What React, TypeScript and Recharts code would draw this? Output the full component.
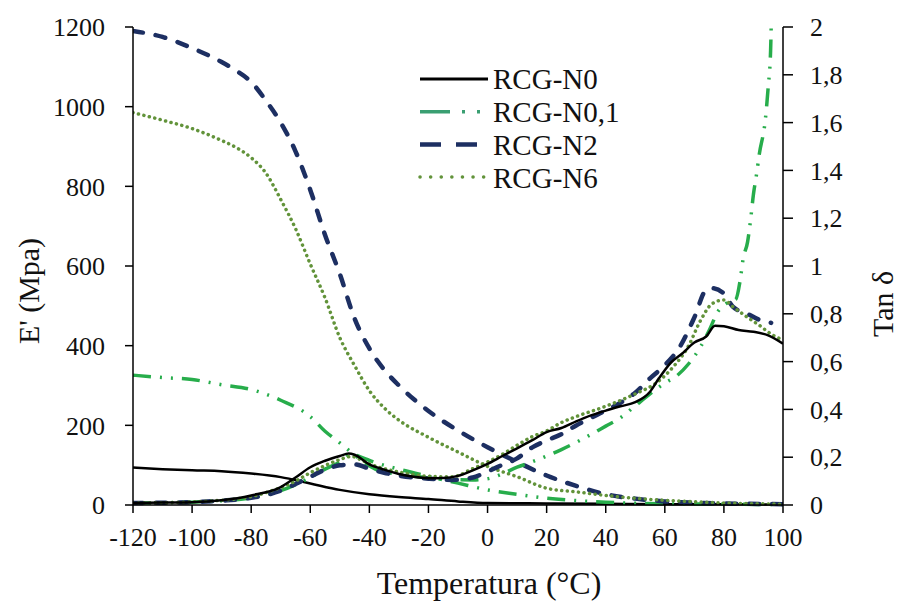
import React from 'react';
import { LineChart, Line, XAxis, YAxis, Legend, Label } from 'recharts';

// temperature ticks (°C)
const tempTicks = [-120, -100, -80, -60, -40, -20, 0, 20, 40, 60, 80, 100];
const modTicks = [0, 200, 400, 600, 800, 1000, 1200];
const tanTicks = [0, 0.2, 0.4, 0.6, 0.8, 1, 1.2, 1.4, 1.6, 1.8, 2];

// E' (MPa) curves
const n0ModT = [-120, -110, -100, -90, -80, -70, -60, -50, -40, -30, -20, -10, 0, 20, 40, 60, 80, 100];
const n0Mod = [94, 90, 87, 85, 79, 70, 54, 38, 27, 20, 15, 9, 5, 4, 3, 2, 2, 1];

const n01ModT = [-120, -110, -100, -90, -80, -70, -60, -55, -50, -46, -40, -30, -20, -10, 0, 10, 20, 30, 40, 60, 80, 100];
const n01Mod = [326, 320, 315, 302, 290, 263, 222, 185, 156, 132, 112, 90, 72, 55, 38, 27, 17, 11, 7, 3, 2, 1];

const n2ModT = [-120, -110, -100, -90, -85, -80, -75, -70, -65, -60, -55, -50, -45, -40, -35, -30, -20, -10, 0, 10, 20, 30, 40, 50, 60, 80, 100];
const n2Mod = [1190, 1175, 1147, 1112, 1090, 1062, 1015, 960, 888, 791, 678, 580, 468, 393, 340, 300, 236, 187, 145, 108, 74, 48, 27, 16, 9, 4, 2];

const n6ModT = [-120, -110, -100, -90, -85, -80, -75, -70, -65, -60, -55, -50, -45, -40, -35, -30, -20, -10, 0, 10, 20, 30, 40, 50, 70, 100];
const n6Mod = [985, 966, 945, 915, 897, 872, 833, 767, 694, 605, 520, 420, 350, 287, 244, 213, 170, 133, 97, 71, 42, 33, 24, 17, 8, 2];

// tan delta curves
const n0TanT = [-120, -110, -100, -90, -80, -70, -65, -60, -55, -50, -47, -45, -40, -35, -30, -25, -20, -15, -10, -5, 0, 5, 10, 15, 20, 25, 30, 35, 40, 45, 50, 55, 58, 62, 66, 70, 74, 77, 80, 85, 90, 95, 100];
const n0Tan = [0.008, 0.01, 0.012, 0.02, 0.04, 0.075, 0.115, 0.158, 0.185, 0.205, 0.215, 0.21, 0.17, 0.148, 0.13, 0.118, 0.112, 0.113, 0.122, 0.145, 0.172, 0.205, 0.237, 0.27, 0.305, 0.322, 0.35, 0.375, 0.395, 0.413, 0.43, 0.474, 0.53, 0.595, 0.635, 0.68, 0.705, 0.75, 0.748, 0.732, 0.725, 0.71, 0.675];

const n01TanT = [-120, -100, -90, -80, -70, -60, -55, -50, -46, -42, -38, -33, -25, -15, -5, 0, 5, 10, 15, 20, 25, 30, 35, 40, 45, 50, 55, 60, 64, 68, 72, 75, 78, 81, 84, 85.5, 86.5, 88, 89, 90, 91, 92, 94, 95, 95.8, 96];
const n01Tan = [0.008, 0.012, 0.018, 0.03, 0.06, 0.115, 0.15, 0.18, 0.212, 0.18, 0.15, 0.134, 0.12, 0.108, 0.105, 0.11, 0.13, 0.158, 0.18, 0.205, 0.232, 0.262, 0.295, 0.33, 0.365, 0.415, 0.465, 0.51, 0.54, 0.59, 0.66, 0.73, 0.81, 0.845, 0.86, 0.94, 1.03, 1.1, 1.19, 1.3, 1.38, 1.47, 1.61, 1.75, 1.9, 2.0];

const n2TanT = [-120, -100, -90, -80, -70, -65, -60, -55, -50, -45, -40, -35, -30, -20, -12, -5, 0, 5, 10, 15, 20, 25, 30, 35, 40, 45, 50, 55, 60, 65, 70, 74, 76, 80, 83, 88, 92, 96];
const n2Tan = [0.008, 0.012, 0.018, 0.03, 0.06, 0.088, 0.118, 0.148, 0.166, 0.17, 0.152, 0.135, 0.123, 0.11, 0.105, 0.115, 0.14, 0.168, 0.195, 0.24, 0.27, 0.296, 0.333, 0.365, 0.395, 0.428, 0.47, 0.53, 0.585, 0.66, 0.785, 0.9, 0.907, 0.885, 0.83, 0.8, 0.775, 0.762];

const n6TanT = [-120, -100, -90, -80, -73, -65, -60, -55, -50, -46, -43, -40, -35, -30, -25, -20, -12, -5, 0, 5, 10, 15, 20, 25, 30, 40, 50, 57, 63, 68, 72, 76, 80, 83, 88, 92, 96, 100];
const n6Tan = [0.008, 0.013, 0.02, 0.035, 0.06, 0.1, 0.135, 0.165, 0.19, 0.203, 0.19, 0.172, 0.152, 0.138, 0.127, 0.12, 0.118, 0.152, 0.18, 0.212, 0.25, 0.285, 0.31, 0.345, 0.37, 0.413, 0.465, 0.51, 0.58, 0.665, 0.77, 0.842, 0.858, 0.83, 0.785, 0.752, 0.715, 0.69];

const zip = (ts: number[], vs: number[]) => ts.map((t, i) => ({ t, v: vs[i] }));

const FONT = "'Liberation Serif', 'DejaVu Serif Condensed', 'DejaVu Serif', serif";
const NAVY = '#1d2f62';
const GREEN = '#27ad4b';
const OLIVE = '#62933a';

const styles = {
  n0: { stroke: '#000', strokeWidth: 2.5, strokeDasharray: undefined, strokeLinecap: 'butt' },
  n01: { stroke: GREEN, strokeWidth: 3.5, strokeDasharray: '18 9 2 9 2 9', strokeLinecap: 'butt' },
  n2: { stroke: NAVY, strokeWidth: 4.5, strokeDasharray: '10 13', strokeLinecap: 'round' },
  n6: { stroke: OLIVE, strokeWidth: 3.5, strokeDasharray: '0.1 5.5', strokeLinecap: 'round' },
};

const legendItems = [
  { name: 'RCG-N0', stroke: '#000', width: 3, dash: undefined, cap: 'butt', len: 68 },
  { name: 'RCG-N0,1', stroke: '#3a9f72', width: 3.5, dash: '30 12 3 12 3 12', cap: 'butt', len: 68 },
  { name: 'RCG-N2', stroke: NAVY, width: 4.5, dash: '21 15', cap: 'butt', len: 58 },
  { name: 'RCG-N6', stroke: OLIVE, width: 3.5, dash: '0.1 10.5', cap: 'round', len: 68 },
];

const textStyle = { fontFamily: FONT };

const SampleLegend = () => (
  <svg width={320} height={150} style={{ overflow: 'visible' }}>
    {legendItems.map((it, i) => {
      const y = 14 + i * 32.7;
      return (
        <g key={it.name}>
          <line x1={2} x2={2 + it.len} y1={y} y2={y} stroke={it.stroke} strokeWidth={it.width}
            strokeDasharray={it.dash} strokeLinecap={it.cap as any} />
          <text x={75} y={y} dy="0.36em" fontSize={29} style={textStyle} fill="#111">{it.name}</text>
        </g>
      );
    })}
  </svg>
);

const tanFormat = (v: number) => String(v).replace('.', ',');
const tickProps = { fill: '#111', fontSize: 26, style: textStyle };

export default function App() {
  return (
    <div style={{ position: 'absolute', left: 0, top: 0, background: '#fff', fontFamily: FONT }}>
      <LineChart width={902} height={601} margin={{ top: 27, right: 0, bottom: 0, left: 0 }}
        style={{ fontFamily: FONT }}>
        <XAxis
          type="number"
          dataKey="t"
          domain={[-120, 100]}
          ticks={tempTicks}
          interval={0}
          allowDataOverflow
          height={96}
          tickSize={8}
          tickMargin={15}
          stroke="#000"
          strokeWidth={1.5}
          tick={tickProps}
        >
          <Label
            content={() => (
              <text x={489} y={594} textAnchor="middle" fontSize={32} style={textStyle} fill="#111">
                Temperatura (°C)
              </text>
            )}
          />
        </XAxis>
        <YAxis
          yAxisId="mod"
          domain={[0, 1200]}
          ticks={modTicks}
          interval={0}
          width={133}
          tickSize={8}
          tickMargin={20}
          stroke="#000"
          strokeWidth={1.5}
          tick={tickProps}
        >
          <Label
            content={() => (
              <text x={28} y={291} transform="rotate(-90, 28, 291)" textAnchor="middle" dy="0.35em"
                fontSize={30} style={textStyle} fill="#111">
                E' (Mpa)
              </text>
            )}
          />
        </YAxis>
        <YAxis
          yAxisId="tan"
          orientation="right"
          domain={[0, 2]}
          ticks={tanTicks}
          interval={0}
          width={119}
          tickSize={10}
          tickMargin={17}
          stroke="#000"
          strokeWidth={1.5}
          tickFormatter={tanFormat}
          tick={tickProps}
        >
          <Label
            content={() => (
              <text x={882} y={304} transform="rotate(-90, 882, 304)" textAnchor="middle" dy="0.35em"
                fontSize={30} style={textStyle} fill="#111">
                Tan δ
              </text>
            )}
          />
        </YAxis>
        <Legend
          layout="vertical"
          align="center"
          verticalAlign="middle"
          content={() => <SampleLegend />}
          wrapperStyle={{ position: 'absolute', left: 418, top: 65, width: 320, height: 150 }}
        />

        <Line yAxisId="mod" data={zip(n0ModT, n0Mod)} dataKey="v" type="monotone" dot={false}
          isAnimationActive={false} {...(styles.n0 as any)} />
        <Line yAxisId="mod" data={zip(n01ModT, n01Mod)} dataKey="v" type="monotone" dot={false}
          isAnimationActive={false} {...(styles.n01 as any)} />
        <Line yAxisId="mod" data={zip(n2ModT, n2Mod)} dataKey="v" type="monotone" dot={false}
          isAnimationActive={false} {...(styles.n2 as any)} />
        <Line yAxisId="mod" data={zip(n6ModT, n6Mod)} dataKey="v" type="monotone" dot={false}
          isAnimationActive={false} {...(styles.n6 as any)} />

        <Line yAxisId="tan" data={zip(n01TanT, n01Tan)} dataKey="v" type="monotone" dot={false}
          isAnimationActive={false} {...(styles.n01 as any)} />
        <Line yAxisId="tan" data={zip(n2TanT, n2Tan)} dataKey="v" type="monotone" dot={false}
          isAnimationActive={false} {...(styles.n2 as any)} />
        <Line yAxisId="tan" data={zip(n6TanT, n6Tan)} dataKey="v" type="monotone" dot={false}
          isAnimationActive={false} {...(styles.n6 as any)} />
        <Line yAxisId="tan" data={zip(n0TanT, n0Tan)} dataKey="v" type="monotone" dot={false}
          isAnimationActive={false} {...(styles.n0 as any)} />
      </LineChart>
    </div>
  );
}
